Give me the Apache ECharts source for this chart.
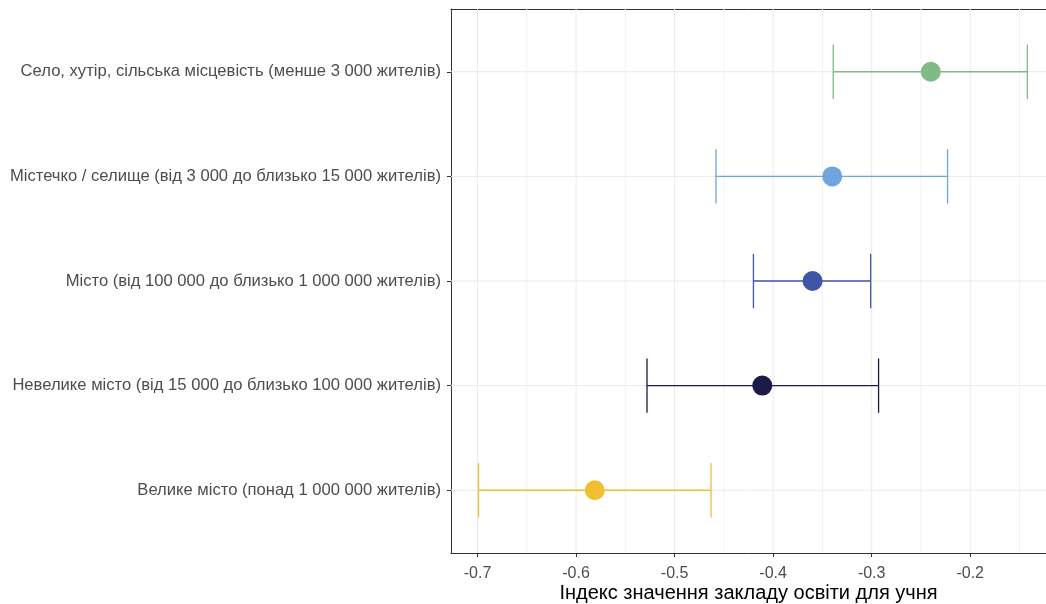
<!DOCTYPE html>
<html>
<head>
<meta charset="utf-8">
<script src="https://cdn.jsdelivr.net/npm/echarts@6/dist/echarts.min.js"></script>
<style>html,body{margin:0;padding:0;background:#fff}#c{width:1046px;height:604px}</style>
</head>
<body>
<div id="c"></div>
<script>
const categories = [
  'Село, хутір, сільська місцевість (менше 3 000 жителів)',
  'Містечко / селище (від 3 000 до близько 15 000 жителів)',
  'Місто (від 100 000 до близько 1 000 000 жителів)',
  'Невелике місто (від 15 000 до близько 100 000 жителів)',
  'Велике місто (понад 1 000 000 жителів)'
];
const means = [-0.240, -0.340, -0.360, -0.411, -0.581];
const lower = [-0.339, -0.458, -0.420, -0.528, -0.699];
const upper = [-0.142, -0.223, -0.301, -0.293, -0.463];
const colors = ['#80BB87', '#6FA4DE', '#3F55A6', '#1C1A48', '#F0C032'];
const xTicks = [-0.7, -0.6, -0.5, -0.4, -0.3, -0.2];
const xMinor = [-0.65, -0.55, -0.45, -0.35, -0.25, -0.15];
const yPos = [1, 2, 3, 4, 5];

const X_MIN = -0.7269, X_MAX = -0.1231, Y_MIN = 0.4, Y_MAX = 5.6;

const chart = echarts.init(document.getElementById('c'), null, {renderer: 'canvas'});
const labelFont = 'Liberation Sans, Arial, sans-serif';

// grid lines: [value, orientation (0 = vertical at x, 1 = horizontal at y), major flag]
const gridData = [];
xMinor.forEach(v => gridData.push([v, 0, 0]));
xTicks.forEach(v => gridData.push([v, 0, 1]));
yPos.forEach(v => gridData.push([v, 1, 1]));

chart.setOption({
  animation: false,
  grid: {left: 451, top: 9, right: 0, bottom: 51, show: false, containLabel: false, outerBoundsMode: 'none'},
  xAxis: [{
    type: 'value', min: X_MIN, max: X_MAX,
    axisLine: {show: true, onZero: false, lineStyle: {color: '#333333', width: 1}},
    axisTick: {show: true, length: 4, customValues: xTicks, lineStyle: {color: '#333333'}},
    axisLabel: {customValues: xTicks, color: '#4D4D4D', fontSize: 16, fontFamily: labelFont, margin: 13,
      formatter: v => String(Math.round(v * 10) / 10)},
    splitLine: {show: false},
    name: 'Індекс значення закладу освіти для учня', nameLocation: 'middle', nameGap: 30,
    nameMoveOverlap: false,
    nameTextStyle: {color: '#000', fontSize: 20, fontFamily: labelFont}
  }, {
    type: 'value', position: 'top', min: X_MIN, max: X_MAX,
    axisLine: {show: true, onZero: false, lineStyle: {color: '#333333', width: 1}},
    axisTick: {show: false}, axisLabel: {show: false}, splitLine: {show: false}
  }],
  yAxis: {
    type: 'value', min: Y_MIN, max: Y_MAX, inverse: true,
    axisLine: {show: true, onZero: false, lineStyle: {color: '#333333', width: 1}},
    axisTick: {show: true, length: 4, customValues: yPos, lineStyle: {color: '#333333'}},
    axisLabel: {customValues: yPos, color: '#4D4D4D', fontSize: 16.6, fontFamily: labelFont, margin: 10,
      formatter: v => categories[Math.round(v) - 1] || ''},
    splitLine: {show: false}
  },
  series: [
    {
      type: 'custom', z: 1, silent: true,
      data: gridData,
      renderItem: function (params, api) {
        const v = api.value(0), horiz = api.value(1), major = api.value(2);
        let a, b;
        if (horiz) { a = api.coord([X_MIN, v]); b = api.coord([X_MAX, v]); }
        else { a = api.coord([v, Y_MIN]); b = api.coord([v, Y_MAX]); }
        return {type: 'line', shape: {x1: a[0], y1: a[1], x2: b[0], y2: b[1]},
          style: {stroke: major ? '#EBEBEB' : '#F2F2F2', lineWidth: 1}};
      }
    },
    {
      type: 'custom', z: 3,
      data: categories.map((c, i) => [lower[i], upper[i], yPos[i], i]),
      renderItem: function (params, api) {
        const lo = api.value(0), hi = api.value(1), y = api.value(2), idx = api.value(3);
        const p1 = api.coord([lo, y]);
        const p2 = api.coord([hi, y]);
        const capT = api.coord([lo, y - 0.26]);
        const capB = api.coord([lo, y + 0.26]);
        const half = Math.abs(capB[1] - capT[1]) / 2;
        const style = {stroke: colors[idx], lineWidth: 1.3, fill: null};
        return {
          type: 'group',
          children: [
            {type: 'line', shape: {x1: p1[0], y1: p1[1], x2: p2[0], y2: p2[1]}, style: style},
            {type: 'line', shape: {x1: p1[0], y1: p1[1] - half, x2: p1[0], y2: p1[1] + half}, style: style},
            {type: 'line', shape: {x1: p2[0], y1: p2[1] - half, x2: p2[0], y2: p2[1] + half}, style: style}
          ]
        };
      }
    },
    {
      type: 'scatter', z: 4, symbol: 'circle', symbolSize: 20,
      data: categories.map((c, i) => ({value: [means[i], yPos[i]], itemStyle: {color: colors[i], opacity: 1}}))
    }
  ]
});
</script>
</body>
</html>
